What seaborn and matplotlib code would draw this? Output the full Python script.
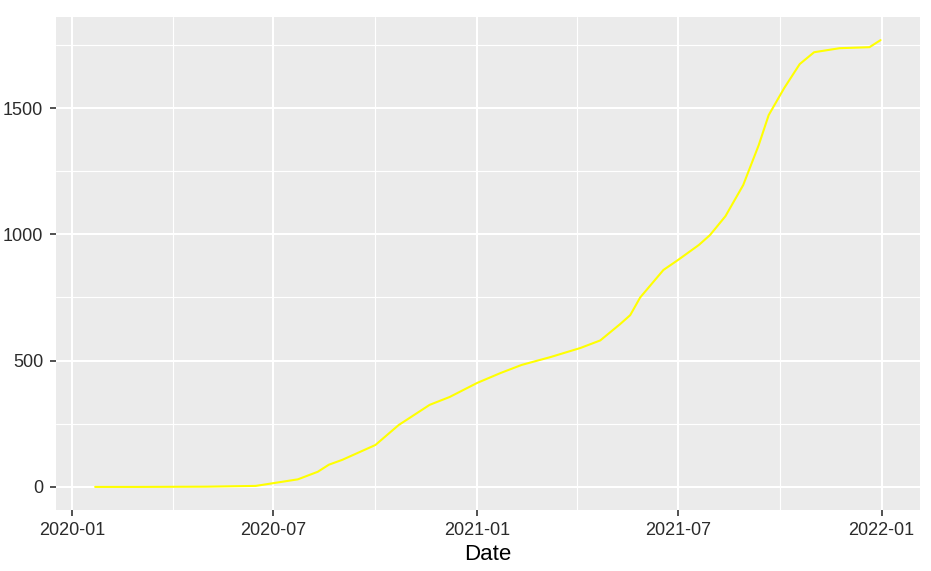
import pandas as pd
import numpy as np
import matplotlib
matplotlib.use("Agg")
import matplotlib.pyplot as plt
import matplotlib.dates as mdates
import seaborn as sns

# cumulative values
dates = ["2020-01-22", "2020-03-01", "2020-05-01", "2020-06-15", "2020-07-01",
         "2020-07-23", "2020-08-10", "2020-08-20", "2020-09-01", "2020-10-01",
         "2020-10-22", "2020-11-19", "2020-12-07", "2021-01-01", "2021-01-22",
         "2021-02-10", "2021-03-08", "2021-04-04", "2021-04-22", "2021-05-10",
         "2021-05-19", "2021-05-28", "2021-06-18", "2021-07-01", "2021-07-20",
         "2021-07-30", "2021-08-13", "2021-08-29",
         "2021-09-12", "2021-09-21", "2021-10-05", "2021-10-19", "2021-11-01",
         "2021-11-24", "2021-12-21", "2021-12-31"]
cases = [0, 0, 1, 4, 15,
         30, 60, 88, 107, 166,
         245, 325, 356, 412, 451,
         483, 514, 550, 580, 645,
         680, 750, 859, 898, 958,
         997, 1072, 1195,
         1353, 1472, 1579, 1674, 1721,
         1737, 1741, 1769]

df = pd.DataFrame({"Date": pd.to_datetime(dates), "cases": cases})

sns.set_theme(style="darkgrid")
plt.rcParams["font.family"] = ["Liberation Sans", "DejaVu Sans"]

fig = plt.figure(figsize=(9.31, 5.71), dpi=100)
ax = fig.add_axes([0.060, 0.107, 0.928, 0.863])
ax.set_facecolor("#EBEBEB")

sns.lineplot(data=df, x="Date", y="cases", color="#FFFF00", linewidth=1.5, ax=ax)

# ggplot-like limits (5% expansion)
x0, x1 = df["Date"].min(), df["Date"].max()
pad = (x1 - x0) * 0.05
ax.set_xlim(x0 - pad, x1 + pad)
ax.set_ylim(-91, 1860)

ax.xaxis.set_major_locator(mdates.MonthLocator(bymonth=[1, 7]))
ax.xaxis.set_major_formatter(mdates.DateFormatter("%Y-%m"))
ax.xaxis.set_minor_locator(mdates.MonthLocator(bymonth=[4, 10]))
ax.set_yticks([0, 500, 1000, 1500])
ax.set_yticks([250, 750, 1250, 1750], minor=True)

ax.grid(which="major", color="white", linewidth=1.5)
ax.grid(which="minor", color="white", linewidth=0.8)
for s in ax.spines.values():
    s.set_visible(False)

ax.tick_params(which="major", length=4, width=1.2, color="#333333",
               labelsize=13, labelcolor="#2B2B2B", pad=5, bottom=True, left=True)
ax.tick_params(which="minor", length=0)

ax.set_xlabel("Date", fontsize=16, color="black", labelpad=3)
ax.set_ylabel("")

fig.savefig("out.png", dpi=100, facecolor="white")
